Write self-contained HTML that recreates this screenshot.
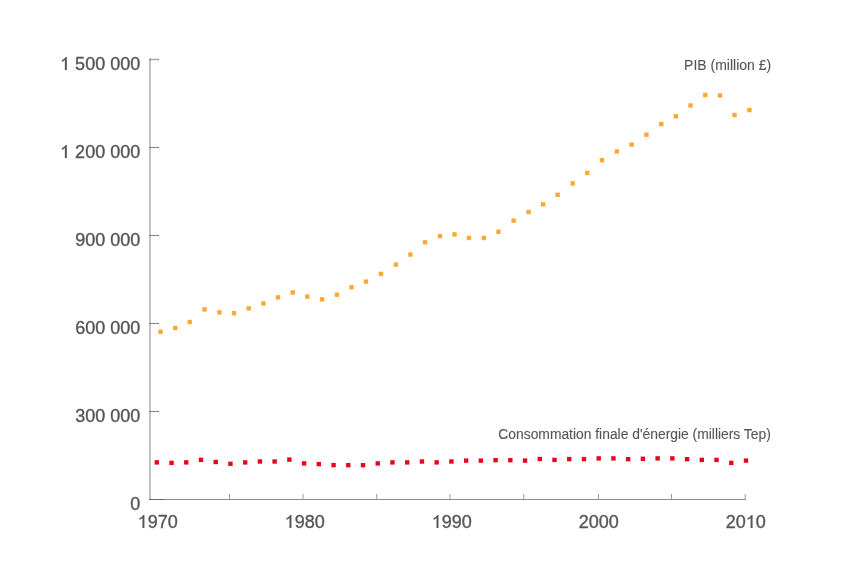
<!DOCTYPE html>
<html><head><meta charset="utf-8"><style>
html,body{margin:0;padding:0;background:#fff;width:850px;height:564px;overflow:hidden}
svg{position:absolute;left:0;top:0;will-change:transform}
text{font-family:"Liberation Sans",sans-serif}
</style></head><body>
<svg width="850" height="564" viewBox="0 0 850 564">
<rect x="149" y="58.5" width="2" height="441.5" fill="#c4c4c4"/>
<rect x="149" y="499" width="597" height="1" fill="#8e8e8e"/><rect x="149" y="499" width="16" height="1" fill="#6a6a6a"/><rect x="744.5" y="494" width="1.3" height="5" fill="#b4b4b4"/>
<rect x="149" y="411.0" width="10" height="1" fill="#8a8a8a"/><rect x="149.5" y="411.0" width="1.2" height="1" fill="#666"/><rect x="158" y="411.0" width="1" height="1" fill="#6e6e6e"/><rect x="149" y="323.0" width="10" height="1" fill="#8a8a8a"/><rect x="149.5" y="323.0" width="1.2" height="1" fill="#666"/><rect x="158" y="323.0" width="1" height="1" fill="#6e6e6e"/><rect x="149" y="235.0" width="10" height="1" fill="#8a8a8a"/><rect x="149.5" y="235.0" width="1.2" height="1" fill="#666"/><rect x="158" y="235.0" width="1" height="1" fill="#6e6e6e"/><rect x="149" y="147.0" width="10" height="1" fill="#8a8a8a"/><rect x="149.5" y="147.0" width="1.2" height="1" fill="#666"/><rect x="158" y="147.0" width="1" height="1" fill="#6e6e6e"/><rect x="149" y="58.8" width="10" height="1.4" fill="#a6a6a6"/><rect x="149.5" y="58.8" width="1.5" height="1.4" fill="#888"/><rect x="158" y="58.8" width="1" height="1.4" fill="#8a8a8a"/>
<line x1="229.5" y1="494" x2="229.5" y2="499" stroke="#999" stroke-width="1"/><line x1="303" y1="494" x2="303" y2="499" stroke="#999" stroke-width="1"/><line x1="376.7" y1="494" x2="376.7" y2="499" stroke="#999" stroke-width="1"/><line x1="450" y1="494" x2="450" y2="499" stroke="#999" stroke-width="1"/><line x1="523.8" y1="494" x2="523.8" y2="499" stroke="#999" stroke-width="1"/><line x1="598.5" y1="494" x2="598.5" y2="499" stroke="#999" stroke-width="1"/><line x1="671.5" y1="494" x2="671.5" y2="499" stroke="#999" stroke-width="1"/>
<g font-size="18" fill="#555" stroke="#555" stroke-width="0.35"><text x="130.19" y="509.90">0</text><text x="75.13" y="421.90">300 000</text><text x="75.13" y="333.90">600 000</text><text x="75.13" y="245.90">900 000</text><text x="60.12" y="157.90">  200 000</text><path transform="translate(60.12 157.90) scale(0.008789 -0.008789)" d="M763 0H540V1130Q480 1070 390 1015Q290 955 190 925V1110Q350 1180 470 1280Q580 1380 630 1472H763Z"/><text x="60.12" y="69.90">  500 000</text><path transform="translate(60.12 69.90) scale(0.008789 -0.008789)" d="M763 0H540V1130Q480 1070 390 1015Q290 955 190 925V1110Q350 1180 470 1280Q580 1380 630 1472H763Z"/><text x="137.72" y="528.00"> 970</text><path transform="translate(137.72 528.00) scale(0.008789 -0.008789)" d="M763 0H540V1130Q480 1070 390 1015Q290 955 190 925V1110Q350 1180 470 1280Q580 1380 630 1472H763Z"/><text x="284.75" y="528.00"> 980</text><path transform="translate(284.75 528.00) scale(0.008789 -0.008789)" d="M763 0H540V1130Q480 1070 390 1015Q290 955 190 925V1110Q350 1180 470 1280Q580 1380 630 1472H763Z"/><text x="431.78" y="528.00"> 990</text><path transform="translate(431.78 528.00) scale(0.008789 -0.008789)" d="M763 0H540V1130Q480 1070 390 1015Q290 955 190 925V1110Q350 1180 470 1280Q580 1380 630 1472H763Z"/><text x="578.81" y="528.00">2000</text><text x="725.84" y="528.00">20 0</text><path transform="translate(745.86 528.00) scale(0.008789 -0.008789)" d="M763 0H540V1130Q480 1070 390 1015Q290 955 190 925V1110Q350 1180 470 1280Q580 1380 630 1472H763Z"/></g>
<g fill="#555" stroke="#555" stroke-width="0.1">
<text x="771.2" y="69.5" font-size="14" text-anchor="end">PIB (million £)</text>
<text x="770.8" y="439" font-size="13.85" text-anchor="end">Consommation finale d'énergie (milliers Tep)</text>
</g>
<rect x="158.30" y="329.50" width="4.4" height="4.4" fill="#f9a936"/><rect x="173.10" y="325.80" width="4.4" height="4.4" fill="#f9a936"/><rect x="187.50" y="319.80" width="4.4" height="4.4" fill="#f9a936"/><rect x="202.30" y="307.20" width="4.4" height="4.4" fill="#f9a936"/><rect x="217.20" y="310.20" width="4.4" height="4.4" fill="#f9a936"/><rect x="231.80" y="311.00" width="4.4" height="4.4" fill="#f9a936"/><rect x="246.50" y="306.20" width="4.4" height="4.4" fill="#f9a936"/><rect x="261.20" y="301.30" width="4.4" height="4.4" fill="#f9a936"/><rect x="275.80" y="295.20" width="4.4" height="4.4" fill="#f9a936"/><rect x="290.60" y="290.30" width="4.4" height="4.4" fill="#f9a936"/><rect x="305.10" y="294.40" width="4.4" height="4.4" fill="#f9a936"/><rect x="319.80" y="297.20" width="4.4" height="4.4" fill="#f9a936"/><rect x="334.80" y="292.50" width="4.4" height="4.4" fill="#f9a936"/><rect x="349.30" y="285.10" width="4.4" height="4.4" fill="#f9a936"/><rect x="363.80" y="279.40" width="4.4" height="4.4" fill="#f9a936"/><rect x="378.80" y="271.70" width="4.4" height="4.4" fill="#f9a936"/><rect x="393.70" y="262.40" width="4.4" height="4.4" fill="#f9a936"/><rect x="408.20" y="252.30" width="4.4" height="4.4" fill="#f9a936"/><rect x="422.80" y="240.10" width="4.4" height="4.4" fill="#f9a936"/><rect x="437.80" y="234.00" width="4.4" height="4.4" fill="#f9a936"/><rect x="452.30" y="232.20" width="4.4" height="4.4" fill="#f9a936"/><rect x="466.80" y="235.80" width="4.4" height="4.4" fill="#f9a936"/><rect x="481.70" y="235.80" width="4.4" height="4.4" fill="#f9a936"/><rect x="496.30" y="229.60" width="4.4" height="4.4" fill="#f9a936"/><rect x="511.40" y="218.40" width="4.4" height="4.4" fill="#f9a936"/><rect x="526.40" y="209.80" width="4.4" height="4.4" fill="#f9a936"/><rect x="540.90" y="202.10" width="4.4" height="4.4" fill="#f9a936"/><rect x="555.40" y="192.60" width="4.4" height="4.4" fill="#f9a936"/><rect x="570.40" y="181.20" width="4.4" height="4.4" fill="#f9a936"/><rect x="585.10" y="170.70" width="4.4" height="4.4" fill="#f9a936"/><rect x="599.70" y="158.00" width="4.4" height="4.4" fill="#f9a936"/><rect x="614.60" y="149.20" width="4.4" height="4.4" fill="#f9a936"/><rect x="629.40" y="142.40" width="4.4" height="4.4" fill="#f9a936"/><rect x="644.20" y="132.50" width="4.4" height="4.4" fill="#f9a936"/><rect x="659.10" y="121.90" width="4.4" height="4.4" fill="#f9a936"/><rect x="673.60" y="114.10" width="4.4" height="4.4" fill="#f9a936"/><rect x="688.30" y="103.30" width="4.4" height="4.4" fill="#f9a936"/><rect x="703.10" y="92.80" width="4.4" height="4.4" fill="#f9a936"/><rect x="717.80" y="93.20" width="4.4" height="4.4" fill="#f9a936"/><rect x="732.30" y="112.80" width="4.4" height="4.4" fill="#f9a936"/><rect x="747.20" y="107.90" width="4.4" height="4.4" fill="#f9a936"/><rect x="154.60" y="460.20" width="4.4" height="4.4" fill="#e6071b"/><rect x="169.33" y="460.70" width="4.4" height="4.4" fill="#e6071b"/><rect x="184.06" y="460.20" width="4.4" height="4.4" fill="#e6071b"/><rect x="198.79" y="457.60" width="4.4" height="4.4" fill="#e6071b"/><rect x="213.52" y="459.80" width="4.4" height="4.4" fill="#e6071b"/><rect x="228.25" y="461.60" width="4.4" height="4.4" fill="#e6071b"/><rect x="242.98" y="460.20" width="4.4" height="4.4" fill="#e6071b"/><rect x="257.71" y="459.30" width="4.4" height="4.4" fill="#e6071b"/><rect x="272.44" y="459.30" width="4.4" height="4.4" fill="#e6071b"/><rect x="287.17" y="457.40" width="4.4" height="4.4" fill="#e6071b"/><rect x="301.90" y="461.20" width="4.4" height="4.4" fill="#e6071b"/><rect x="316.63" y="461.90" width="4.4" height="4.4" fill="#e6071b"/><rect x="331.36" y="462.90" width="4.4" height="4.4" fill="#e6071b"/><rect x="346.09" y="463.00" width="4.4" height="4.4" fill="#e6071b"/><rect x="360.82" y="463.00" width="4.4" height="4.4" fill="#e6071b"/><rect x="375.55" y="461.20" width="4.4" height="4.4" fill="#e6071b"/><rect x="390.28" y="460.20" width="4.4" height="4.4" fill="#e6071b"/><rect x="405.01" y="460.20" width="4.4" height="4.4" fill="#e6071b"/><rect x="419.74" y="459.30" width="4.4" height="4.4" fill="#e6071b"/><rect x="434.47" y="460.20" width="4.4" height="4.4" fill="#e6071b"/><rect x="449.20" y="459.30" width="4.4" height="4.4" fill="#e6071b"/><rect x="463.93" y="458.40" width="4.4" height="4.4" fill="#e6071b"/><rect x="478.66" y="458.40" width="4.4" height="4.4" fill="#e6071b"/><rect x="493.39" y="458.00" width="4.4" height="4.4" fill="#e6071b"/><rect x="508.12" y="458.00" width="4.4" height="4.4" fill="#e6071b"/><rect x="522.85" y="458.40" width="4.4" height="4.4" fill="#e6071b"/><rect x="537.58" y="456.80" width="4.4" height="4.4" fill="#e6071b"/><rect x="552.31" y="457.70" width="4.4" height="4.4" fill="#e6071b"/><rect x="567.04" y="456.90" width="4.4" height="4.4" fill="#e6071b"/><rect x="581.77" y="456.90" width="4.4" height="4.4" fill="#e6071b"/><rect x="596.50" y="456.20" width="4.4" height="4.4" fill="#e6071b"/><rect x="611.23" y="456.20" width="4.4" height="4.4" fill="#e6071b"/><rect x="625.96" y="457.00" width="4.4" height="4.4" fill="#e6071b"/><rect x="640.69" y="456.60" width="4.4" height="4.4" fill="#e6071b"/><rect x="655.42" y="456.20" width="4.4" height="4.4" fill="#e6071b"/><rect x="670.15" y="456.20" width="4.4" height="4.4" fill="#e6071b"/><rect x="684.88" y="457.00" width="4.4" height="4.4" fill="#e6071b"/><rect x="699.61" y="457.70" width="4.4" height="4.4" fill="#e6071b"/><rect x="714.34" y="457.70" width="4.4" height="4.4" fill="#e6071b"/><rect x="729.07" y="460.70" width="4.4" height="4.4" fill="#e6071b"/><rect x="743.80" y="458.40" width="4.4" height="4.4" fill="#e6071b"/>
</svg>
</body></html>
